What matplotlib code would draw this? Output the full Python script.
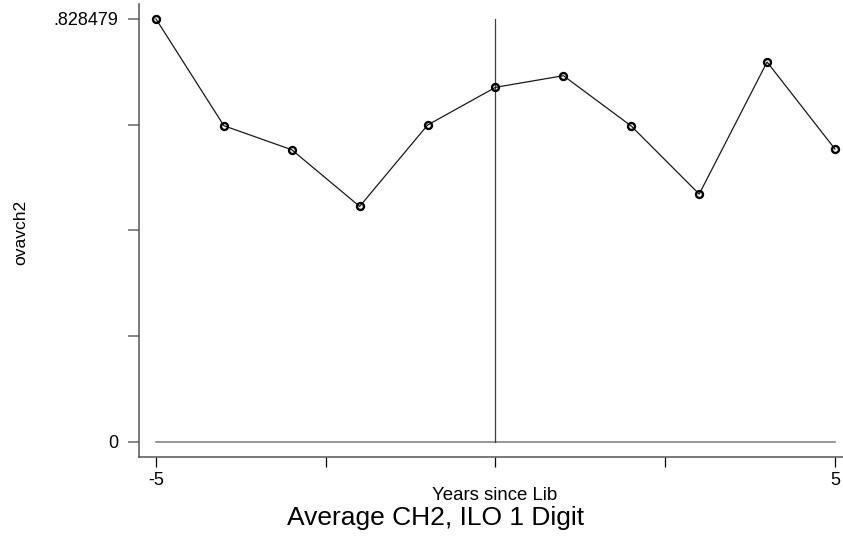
from matplotlib import pyplot as plt

plt.rcParams['font.family'] = ['Liberation Sans', 'DejaVu Sans']

years = [-5, -4, -3, -2, -1, 0, 1, 2, 3, 4, 5]
ovavch2 = [0.828479, 0.6194, 0.5723, 0.4614, 0.6207, 0.6946,
           0.7174, 0.6188, 0.4855, 0.7442, 0.5737]

ymax = 0.828479
yticks = [0, ymax / 4, ymax / 2, 3 * ymax / 4, ymax]
ytick_labels = ['0', '', '', '', '.828479']
xticks = [-5, -2.5, 0, 2.5, 5]
xtick_labels = ['-5', '', '', '', '5']

W, H = 843, 540
fig = plt.figure(figsize=(W / 100, H / 100), dpi=100)
ax = fig.add_axes([139 / W, 1 - 457 / H, 1 - 139 / W, (457 - 4) / H])

# reference lines
ax.plot([-5, 5], [0, 0], color='#7a7a7a', lw=1.1, zorder=1)
ax.plot([0, 0], [0, ymax], color='#404040', lw=0.9, zorder=1)

ax.plot(years, ovavch2, color='#1a1a1a', lw=0.9, marker='o',
        ms=5, mew=1.7, mfc='none', mec='black', zorder=3)

ax.set_xlim(-5.25, 5.118)
ax.set_ylim(-0.0294, 0.8578)

ax.set_xticks(xticks)
ax.set_xticklabels(xtick_labels)
ax.set_yticks(yticks)
ax.set_yticklabels(ytick_labels)

for s in ['top', 'right']:
    ax.spines[s].set_visible(False)
for s in ['left', 'bottom']:
    ax.spines[s].set_color('#555555')
    ax.spines[s].set_linewidth(1.1)

ax.tick_params(axis='y', length=8, width=1.1, color='#666666',
               pad=7, labelsize=13)
ax.tick_params(axis='x', length=7.5, width=0.9, color='black',
               pad=3, labelsize=13)

fig.text(495 / W, 1 - 496 / H, 'Years since Lib', ha='center',
         va='center', fontsize=13.4)
fig.text(436 / W, 1 - 518 / H, 'Average CH2, ILO 1 Digit', ha='center',
         va='center', fontsize=19)
fig.text(21 / W, 1 - 232 / H, 'ovavch2', rotation=90, ha='center',
         va='center', fontsize=12.6)

fig.savefig('out.png', dpi=100)
